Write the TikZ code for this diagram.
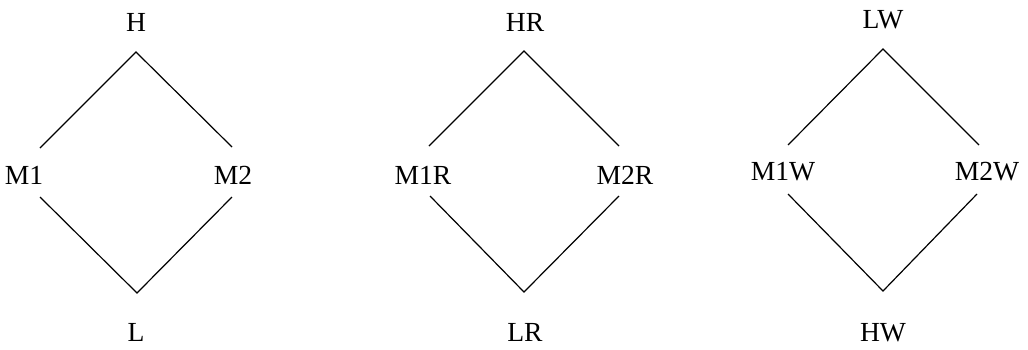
\documentclass[tikz,border=0pt]{standalone}
\usepackage{fontspec}
\setmainfont{Liberation Serif}
\begin{document}
\begin{tikzpicture}[x=0.5pt,y=-0.5pt,
  lbl/.style={inner sep=0pt,font=\fontsize{13.8}{15}\selectfont},
  edge/.style={draw=black,line width=0.6pt}]
\useasboundingbox (0,0) rectangle (1028,349);
% diagram 1
\node[lbl] (H) at (136,22) {H};
\node[lbl] (M1) at (24,175) {M1};
\node[lbl] (M2) at (233,175) {M2};
\node[lbl] (L) at (136,332) {L};
\coordinate (t1) at (136,52);
\coordinate (b1) at (137,293);
\coordinate (m1u) at (40,148);
\coordinate (m1d) at (40,197);
\coordinate (m2u) at (232,147);
\coordinate (m2d) at (232,197);
\draw[edge] (m1u) -- (t1) -- (m2u);
\draw[edge] (m1d) -- (b1) -- (m2d);
% diagram 2
\node[lbl] (HR) at (525,22) {HR};
\node[lbl] (M1R) at (423,175) {M1R};
\node[lbl] (M2R) at (625,175) {M2R};
\node[lbl] (LR) at (525,332) {LR};
\coordinate (t2) at (524,51);
\coordinate (b2) at (524,292);
\coordinate (r1u) at (429,146);
\coordinate (r1d) at (430,196);
\coordinate (r2u) at (619,146);
\coordinate (r2d) at (619,196);
\draw[edge] (r1u) -- (t2) -- (r2u);
\draw[edge] (r1d) -- (b2) -- (r2d);
% diagram 3
\node[lbl] (LW) at (883,20) {LW};
\node[lbl] (M1W) at (783,172) {M1W};
\node[lbl] (M2W) at (987,172) {M2W};
\node[lbl] (HW) at (883,333) {HW};
\coordinate (t3) at (883,49);
\coordinate (b3) at (883,291);
\coordinate (w1u) at (788,145);
\coordinate (w1d) at (788,194);
\coordinate (w2u) at (979,145);
\coordinate (w2d) at (977,194);
\draw[edge] (w1u) -- (t3) -- (w2u);
\draw[edge] (w1d) -- (b3) -- (w2d);
\end{tikzpicture}
\end{document}
